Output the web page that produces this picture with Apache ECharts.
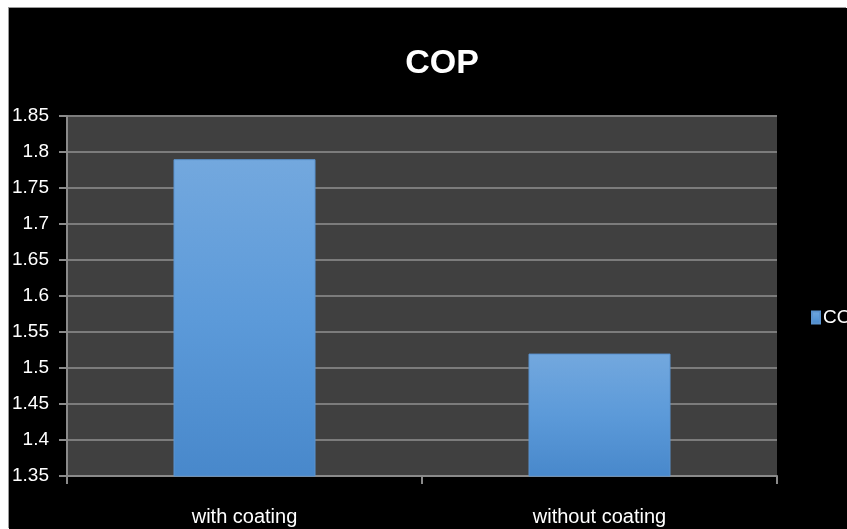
<!DOCTYPE html>
<html>
<head>
<meta charset="utf-8">
<script src="https://cdn.jsdelivr.net/npm/echarts@6/dist/echarts.min.js"></script>
<style>
html,body{margin:0;padding:0;background:#ffffff;width:847px;height:529px;overflow:hidden;}
#chart{position:absolute;left:9px;top:8px;width:838px;height:521px;background:#000;box-shadow:-1px -1px 0 #9a9a9a;}
</style>
</head>
<body>
<div id="chart"></div>
<script>
const titleText = 'COP';
const seriesName = 'COP';
const categories = ['with coating', 'without coating'];
const copValues = [1.79, 1.52];
const yMin = 1.35, yMax = 1.85, yStep = 0.05;

const FONT = "'Liberation Sans Narrow', 'Arial Narrow', 'Liberation Sans', sans-serif";
const chart = echarts.init(document.getElementById('chart'), null, {renderer: 'canvas'});
chart.setOption({
  backgroundColor: '#000000',
  animation: false,
  title: {
    text: titleText,
    left: 428,
    textAlign: 'center',
    top: 34,
    textStyle: {color: '#ffffff', fontFamily: FONT, fontWeight: 'bold', fontSize: 34}
  },
  legend: {
    data: [seriesName],
    left: 797,
    top: 295,
    itemWidth: 8,
    itemHeight: 12,
    itemGap: 4,
    icon: 'rect',
    textStyle: {color: '#ffffff', fontFamily: FONT, fontSize: 19, padding: [0, 0, 0, -2]}
  },
  grid: {
    left: 58, right: 70, top: 108, bottom: 53,
    show: true, backgroundColor: '#404040', borderWidth: 0
  },
  xAxis: {
    type: 'category',
    data: categories,
    axisLine: {lineStyle: {color: '#8a8a8a', width: 2}},
    axisTick: {show: true, length: 8, lineStyle: {color: '#8a8a8a', width: 2}},
    axisLabel: {color: '#ffffff', fontFamily: FONT, fontSize: 20, margin: 31}
  },
  yAxis: {
    type: 'value',
    min: yMin, max: yMax, interval: yStep,
    axisLine: {show: true, lineStyle: {color: '#8a8a8a', width: 2}},
    axisTick: {show: true, length: 8, lineStyle: {color: '#8a8a8a', width: 2}},
    splitLine: {lineStyle: {color: '#7c7c7c', width: 2}},
    axisLabel: {
      color: '#ffffff', fontFamily: FONT, fontSize: 19, margin: 18,
      formatter: v => String(+v.toFixed(2))
    }
  },
  series: [{
    name: seriesName,
    type: 'bar',
    data: copValues,
    barWidth: '40%',
    itemStyle: {
      color: new echarts.graphic.LinearGradient(0, 0, 0, 1, [
        {offset: 0, color: '#73a8de'},
        {offset: 0.5, color: '#5c9ad9'},
        {offset: 1, color: '#4888cb'}
      ]),
      borderColor: '#5b93cf',
      borderWidth: 1
    }
  }]
});
</script>
</body>
</html>
